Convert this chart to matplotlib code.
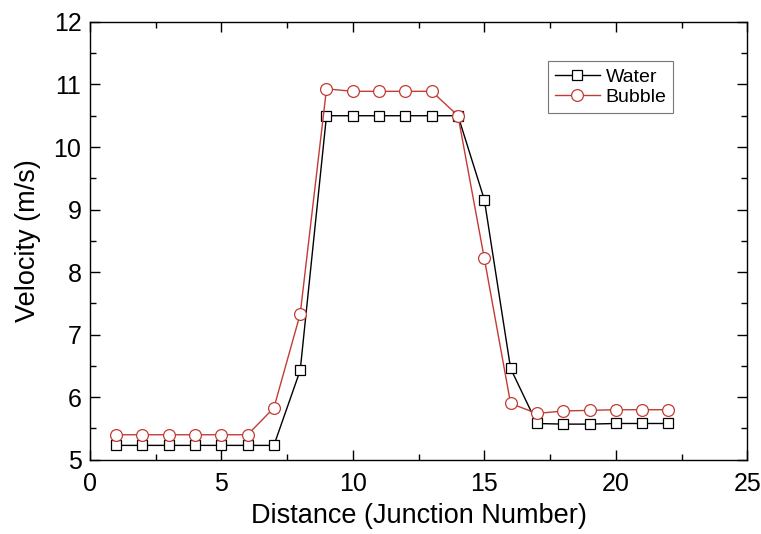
import matplotlib.pyplot as plt
from matplotlib.ticker import MultipleLocator

plt.rcParams['font.family'] = ['Liberation Sans', 'DejaVu Sans']

# Junction numbers and velocities (m/s)
junction = list(range(1, 23))
water = [5.23, 5.23, 5.23, 5.23, 5.23, 5.23, 5.23, 6.43, 10.50, 10.50, 10.50,
         10.50, 10.50, 10.50, 9.16, 6.46, 5.58, 5.57, 5.57, 5.58, 5.58, 5.58]
bubble = [5.40, 5.40, 5.40, 5.40, 5.40, 5.40, 5.83, 7.33, 10.93, 10.89, 10.89,
          10.89, 10.89, 10.50, 8.22, 5.90, 5.74, 5.78, 5.79, 5.80, 5.80, 5.80]

fig = plt.figure(figsize=(7.61, 5.34), dpi=100)
ax = fig.add_axes([0.118, 0.139, 0.864, 0.820])

ax.plot(junction, water, color='black', lw=1.0, marker='s', ms=7,
        mfc='white', mec='black', mew=0.9, label='Water')
ax.plot(junction, bubble, color='#c23b35', lw=1.0, marker='o', ms=8.5,
        mfc='white', mec='#c23b35', mew=0.9, label='Bubble')

ax.set_xlim(0, 25)
ax.set_ylim(5, 12)
ax.xaxis.set_major_locator(MultipleLocator(5))
ax.xaxis.set_minor_locator(MultipleLocator(2.5))
ax.yaxis.set_major_locator(MultipleLocator(1))
ax.yaxis.set_minor_locator(MultipleLocator(0.5))
ax.tick_params(which='both', direction='in', top=True, right=True,
               labelsize=18, width=1.0)
ax.tick_params(which='major', length=7.5)
ax.tick_params(which='minor', length=4.5)
ax.tick_params(axis='x', which='major', pad=9)
ax.tick_params(axis='y', which='major', pad=6)
for s in ax.spines.values():
    s.set_linewidth(1.0)

ax.set_xlabel('Distance (Junction Number)', fontsize=19.5, labelpad=5)
ax.set_ylabel('Velocity (m/s)', fontsize=19.5, labelpad=9)

leg = ax.legend(loc='upper left', bbox_to_anchor=(0.697, 0.91), fontsize=14,
                frameon=True, fancybox=False, edgecolor='#555555',
                handlelength=2.3, borderpad=0.35, labelspacing=0.15,
                handletextpad=0.3, borderaxespad=0)
leg.get_frame().set_linewidth(0.8)

plt.savefig('out.png', dpi=100)
